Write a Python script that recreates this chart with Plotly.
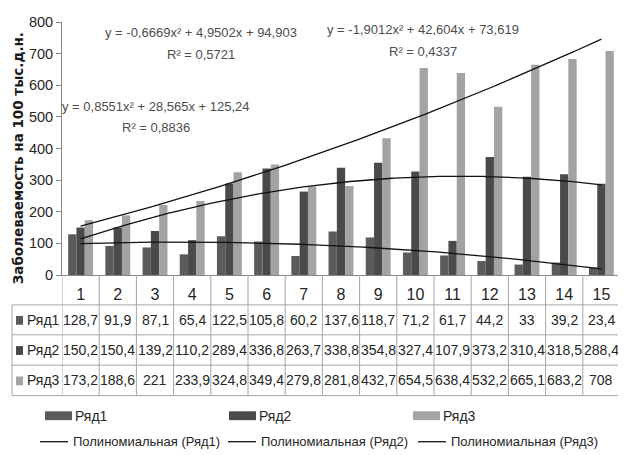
import numpy as np
import plotly.graph_objects as go

categories = list(range(1, 16))
series_names = ["Ряд1", "Ряд2", "Ряд3"]
ryad1 = [128.7, 91.9, 87.1, 65.4, 122.5, 105.8, 60.2, 137.6, 118.7, 71.2, 61.7, 44.2, 33, 39.2, 23.4]
ryad2 = [150.2, 150.4, 139.2, 110.2, 289.4, 336.8, 263.7, 338.8, 354.8, 327.4, 107.9, 373.2, 310.4, 318.5, 288.4]
ryad3 = [173.2, 188.6, 221, 233.9, 324.8, 349.4, 279.8, 281.8, 432.7, 654.5, 638.4, 532.2, 665.1, 683.2, 708]
y_ticks = [0, 100, 200, 300, 400, 500, 600, 700, 800]
y_title = "Заболеваемость на 100 тыс.д.н."
trend_names = ["Полиномиальная (Ряд1)", "Полиномиальная (Ряд2)", "Полиномиальная (Ряд3)"]
eq_texts = [
    ("y = -0,6669x² + 4,9502x + 94,903", "R² = 0,5721"),
    ("y = -1,9012x² + 42,604x + 73,619", "R² = 0,4337"),
    ("y = 0,8551x² + 28,565x + 125,24", "R² = 0,8836"),
]

series = [ryad1, ryad2, ryad3]
colors = ["#5b5b5b", "#4a4a4a", "#a3a3a3"]
FONT = "Liberation Sans, Arial, sans-serif"
TXT = "#262626"
GRID = "#a6a6a6"

# the page body adds an 8px margin; the figure is sized to fill the rest of the window
OFF = 8
W, H = 626 - OFF, 455 - OFF
L, R, T, B = 62 - OFF, 6, 17 - OFF, 180
PW, PH = W - L - R, H - T - B


def px(x):
    return (x - OFF - L) / PW


def py(y):
    return (H + OFF - B - y) / PH


fig = go.Figure()
for name, vals, col in zip(series_names, series, colors):
    fig.add_trace(go.Bar(x=categories, y=vals, name=name, marker=dict(color=col, line=dict(width=0)),
                         showlegend=False))

xs = np.linspace(categories[0], categories[-1], 200)
for vals, tn in zip(series, trend_names):
    c = np.polyfit(categories, vals, 2)
    fig.add_trace(go.Scatter(x=xs, y=np.polyval(c, xs), mode="lines", name=tn,
                             line=dict(color="#111111", width=1.3), showlegend=False, hoverinfo="skip"))

shapes = []
annotations = []

# table geometry (page pixels)
row_edges = [275, 305.5, 336, 367, 398]
left_px = 12
for i in range(len(categories) + 1):
    shapes.append(dict(type="line", xref="x", yref="paper", x0=0.5 + i, x1=0.5 + i,
                       y0=py(row_edges[0]), y1=py(row_edges[-1]), line=dict(color=GRID, width=1)))
shapes.append(dict(type="line", xref="paper", yref="paper", x0=px(left_px), x1=px(left_px),
                   y0=py(row_edges[1]), y1=py(row_edges[-1]), line=dict(color=GRID, width=1)))
for e in row_edges[1:]:
    shapes.append(dict(type="line", xref="paper", yref="paper", x0=px(left_px), x1=1.0,
                       y0=py(e), y1=py(e), line=dict(color=GRID, width=1)))

for r, (name, vals, col) in enumerate(zip(series_names, series, colors)):
    yc = (row_edges[r + 1] + row_edges[r + 2]) / 2
    shapes.append(dict(type="rect", xref="paper", yref="paper", x0=px(16), x1=px(23),
                       y0=py(yc + 5), y1=py(yc - 4), fillcolor=col, line=dict(width=0)))
    annotations.append(dict(x=px(25), y=py(yc), xref="paper", yref="paper", text=name, showarrow=False,
                            xanchor="left", yanchor="middle", font=dict(family=FONT, size=14, color=TXT)))
    for cat, v in zip(categories, vals):
        annotations.append(dict(x=cat, y=py(yc), xref="x", yref="paper", text=f"{v:g}".replace(".", ","),
                                showarrow=False, xanchor="center", yanchor="middle",
                                font=dict(family=FONT, size=14, color=TXT)))

eq_pos = [(201, 28, 50), (423, 25, 47), (156, 103, 125)]
for (eq, r2), (cx, y1, y2) in zip(eq_texts, eq_pos):
    annotations.append(dict(x=px(cx), y=py(y1), xref="paper", yref="paper", text=eq, showarrow=False,
                            xanchor="center", yanchor="middle", font=dict(family=FONT, size=13, color="#4d4d4d")))
    annotations.append(dict(x=px(cx), y=py(y2), xref="paper", yref="paper", text=r2, showarrow=False,
                            xanchor="center", yanchor="middle", font=dict(family=FONT, size=13, color="#4d4d4d")))

annotations.append(dict(x=px(18), y=py(156), xref="paper", yref="paper", text=y_title, showarrow=False,
                        textangle=-90, xanchor="center", yanchor="middle",
                        font=dict(family="DejaVu Sans", size=13.5, color="#1a1a1a", weight="bold")))

bar_leg_x = [45, 229, 413]
for name, col, x0 in zip(series_names, colors, bar_leg_x):
    shapes.append(dict(type="rect", xref="paper", yref="paper", x0=px(x0), x1=px(x0 + 27),
                       y0=py(423), y1=py(414), fillcolor=col, line=dict(width=0)))
    annotations.append(dict(x=px(x0 + 28), y=py(418.5), xref="paper", yref="paper", text=name, showarrow=False,
                            xanchor="left", yanchor="middle", font=dict(family=FONT, size=14, color=TXT)))
line_leg_x = [40, 228, 418]
for tn, x0 in zip(trend_names, line_leg_x):
    shapes.append(dict(type="line", xref="paper", yref="paper", x0=px(x0), x1=px(x0 + 28),
                       y0=py(445), y1=py(445), line=dict(color="#111111", width=1.3)))
    annotations.append(dict(x=px(x0 + 31), y=py(445), xref="paper", yref="paper", text=tn, showarrow=False,
                            xanchor="left", yanchor="middle", font=dict(family=FONT, size=13, color=TXT)))

fig.update_layout(
    width=W, height=H, margin=dict(l=L, r=R, t=T, b=B),
    paper_bgcolor="white", plot_bgcolor="white",
    barmode="group", bargap=0.33, bargroupgap=0,
    shapes=shapes, annotations=annotations, showlegend=False,
    font=dict(family=FONT, size=14, color=TXT),
)
fig.update_xaxes(range=[0.5, 15.5], tickvals=categories, ticktext=[str(c) for c in categories],
                 showline=True, linecolor="#868686", linewidth=1, ticks="", showgrid=False,
                 zeroline=False, tickfont=dict(family=FONT, size=16, color=TXT), ticklabelstandoff=5)
fig.update_yaxes(range=[0, 800], tickvals=y_ticks, showline=True, linecolor="#868686", linewidth=1,
                 ticks="outside", ticklen=5, tickcolor="#868686", showgrid=False, zeroline=False,
                 tickfont=dict(family=FONT, size=14.5, color=TXT))

fig.write_html("out.html")
